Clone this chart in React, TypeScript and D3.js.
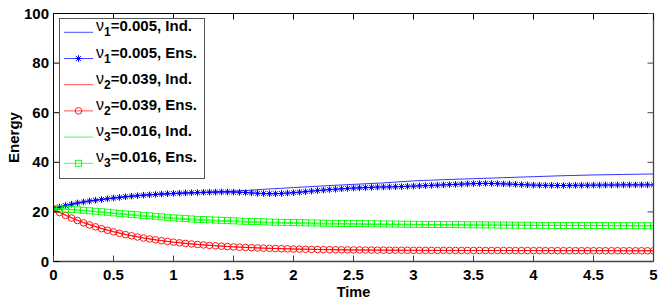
import React from 'react';
import * as d3 from 'd3';

// sample grids
const IND_TIMES = [0, 0.25, 0.5, 0.75, 1, 1.25, 1.5, 1.75, 2, 2.25, 2.5, 2.75, 3, 3.25, 3.5, 3.75, 4, 4.25, 4.5, 4.75, 5];
const ENS_TIMES = d3.range(101).map((i) => i * 0.05);

// individual runs (solid lines)
const BLUE_IND = [21.3, 24.0, 25.6, 26.7, 27.4, 27.8, 28.3, 29.1, 29.8, 30.5, 31.1, 31.7, 32.5, 33.0, 33.4, 33.8, 34.2, 34.6, 34.9, 35.1, 35.3];
const RED_IND = [21.0, 15.8, 12.1, 9.5, 7.8, 6.7, 5.9, 5.4, 5.05, 4.8, 4.66, 4.57, 4.51, 4.48, 4.45, 4.43, 4.4, 4.38, 4.36, 4.35, 4.33];
const GREEN_IND = [21.3, 20.5, 19.3, 18.2, 17.2, 16.5, 16.0, 15.6, 15.3, 15.1, 15.0, 14.9, 14.8, 14.7, 14.65, 14.6, 14.55, 14.5, 14.45, 14.4, 14.4];

// ensemble runs (lines with markers)
const BLUE_ENS = [
  21.3, 22.0, 22.6, 23.1, 23.6, 24.0, 24.4, 24.7, 25.0, 25.3,
  25.6, 25.85, 26.1, 26.35, 26.55, 26.75, 26.9, 27.05, 27.2, 27.35,
  27.45, 27.55, 27.65, 27.75, 27.8, 27.9, 27.95, 28.0, 28.05, 28.05,
  28.0, 27.9, 27.8, 27.65, 27.5, 27.4, 27.35, 27.35, 27.45, 27.6,
  27.75, 27.95, 28.15, 28.4, 28.6, 28.8, 29.0, 29.15, 29.3, 29.45,
  29.6, 29.7, 29.8, 29.9, 30.0, 30.05, 30.1, 30.15, 30.2, 30.3,
  30.4, 30.5, 30.6, 30.7, 30.8, 30.9, 31.0, 31.1, 31.2, 31.3,
  31.4, 31.45, 31.5, 31.45, 31.4, 31.3, 31.2, 31.1, 31.0, 30.9,
  30.8, 30.75, 30.7, 30.7, 30.65, 30.65, 30.7, 30.7, 30.75, 30.75,
  30.8, 30.8, 30.85, 30.85, 30.85, 30.9, 30.9, 30.9, 30.9, 30.9,
  30.9,
];
const RED_ENS = [
  21.0, 19.75, 18.59, 17.51, 16.52, 15.6, 14.75, 13.97, 13.24, 12.57,
  11.95, 11.37, 10.84, 10.35, 9.89, 9.47, 9.08, 8.73, 8.39, 8.09,
  7.8, 7.54, 7.29, 7.07, 6.86, 6.67, 6.49, 6.33, 6.17, 6.03,
  5.9, 5.78, 5.67, 5.57, 5.47, 5.38, 5.3, 5.23, 5.16, 5.09,
  5.03, 4.98, 4.93, 4.88, 4.84, 4.8, 4.77, 4.74, 4.71, 4.68,
  4.66, 4.64, 4.62, 4.6, 4.58, 4.57, 4.55, 4.54, 4.53, 4.52,
  4.51, 4.5, 4.49, 4.49, 4.48, 4.48, 4.47, 4.47, 4.46, 4.46,
  4.45, 4.45, 4.44, 4.44, 4.43, 4.43, 4.42, 4.42, 4.41, 4.41,
  4.4, 4.4, 4.4, 4.39, 4.39, 4.38, 4.38, 4.38, 4.37, 4.37,
  4.36, 4.36, 4.36, 4.35, 4.35, 4.35, 4.34, 4.34, 4.34, 4.33,
  4.33,
];
const GREEN_ENS = [
  21.3, 21.25, 21.15, 21.0, 20.85, 20.65, 20.45, 20.25, 20.05, 19.85,
  19.6, 19.4, 19.2, 19.0, 18.8, 18.6, 18.4, 18.2, 18.0, 17.8,
  17.6, 17.45, 17.3, 17.15, 17.0, 16.9, 16.8, 16.7, 16.6, 16.5,
  16.4, 16.3, 16.2, 16.15, 16.1, 16.0, 15.9, 15.85, 15.8, 15.75,
  15.7, 15.65, 15.6, 15.55, 15.5, 15.45, 15.4, 15.38, 15.35, 15.32,
  15.3, 15.27, 15.24, 15.21, 15.18, 15.15, 15.12, 15.09, 15.06, 15.03,
  15.0, 14.98, 14.96, 14.94, 14.92, 14.9, 14.88, 14.86, 14.84, 14.82,
  14.8, 14.78, 14.76, 14.74, 14.72, 14.7, 14.68, 14.66, 14.64, 14.62,
  14.6, 14.59, 14.58, 14.57, 14.56, 14.55, 14.54, 14.53, 14.52, 14.51,
  14.5, 14.49, 14.48, 14.47, 14.46, 14.45, 14.44, 14.43, 14.42, 14.41,
  14.4,
];

const NU_INDEX = ['1', '1', '2', '2', '3', '3'];
const NU_VALUES = ['0.005', '0.005', '0.039', '0.039', '0.016', '0.016'];
const RUN_KIND = ['Ind.', 'Ens.', 'Ind.', 'Ens.', 'Ind.', 'Ens.'];
const X_TICKS = [0, 0.5, 1, 1.5, 2, 2.5, 3, 3.5, 4, 4.5, 5];
const Y_TICKS = [0, 20, 40, 60, 80, 100];

type Marker = 'none' | 'star' | 'circle' | 'square';

const SERIES: { times: number[]; values: number[]; color: string; marker: Marker }[] = [
  { times: IND_TIMES, values: BLUE_IND, color: '#0000ff', marker: 'none' },
  { times: ENS_TIMES, values: BLUE_ENS, color: '#0000ff', marker: 'star' },
  { times: IND_TIMES, values: RED_IND, color: '#ff0000', marker: 'none' },
  { times: ENS_TIMES, values: RED_ENS, color: '#ff0000', marker: 'circle' },
  { times: IND_TIMES, values: GREEN_IND, color: '#00ff00', marker: 'none' },
  { times: ENS_TIMES, values: GREEN_ENS, color: '#00ff00', marker: 'square' },
];

const WIDTH = 664;
const HEIGHT = 300;
const FONT = '"Liberation Sans", Arial, Helvetica, sans-serif';

const starPath = (s: number) => {
  const d = s * 0.72;
  return `M${-s},0H${s}M0,${-s}V${s}M${-d},${-d}L${d},${d}M${-d},${d}L${d},${-d}`;
};

const MarkerShape: React.FC<{ kind: Marker; x: number; y: number; color: string }> = ({ kind, x, y, color }) => {
  if (kind === 'star') {
    return <path d={starPath(3.3)} transform={`translate(${x},${y})`} stroke={color} strokeWidth={1} fill="none" />;
  }
  if (kind === 'circle') {
    return <circle cx={x} cy={y} r={3.3} stroke={color} strokeWidth={0.9} fill="none" />;
  }
  if (kind === 'square') {
    return <rect x={x - 3} y={y - 3} width={6} height={6} stroke={color} strokeWidth={0.9} fill="none" />;
  }
  return null;
};

export default function App() {
  const x = d3.scaleLinear().domain([0, 5]).range([53.5, 653.5]);
  const y = d3.scaleLinear().domain([0, 100]).range([261.5, 13.5]);
  const [x0, x1] = x.range();
  const [y0, y1] = y.range();
  const tick = 6;

  const line = d3
    .line<[number, number]>()
    .x((d) => x(d[0]))
    .y((d) => y(d[1]))
    .curve(d3.curveMonotoneX);

  const legendTop = 32.3;
  const legendStep = 26.2;

  return (
    <div style={{ position: 'absolute', left: 0, top: 0 }}>
      <svg width={WIDTH} height={HEIGHT} style={{ display: 'block', background: '#fff' }} fontFamily={FONT}>
        <rect width={WIDTH} height={HEIGHT} fill="#fff" />

        {/* data */}
        <defs>
          <clipPath id="plot-clip">
            <rect x={x0} y={y1} width={x1 - x0} height={y0 - y1} />
          </clipPath>
        </defs>
        <g clipPath="url(#plot-clip)">
          {SERIES.map((s, i) => {
            const pts = s.times.map((t, j) => [t, s.values[j]] as [number, number]);
            return (
              <g key={i}>
                <path d={line(pts) || ''} fill="none" stroke={s.color} strokeWidth={1} strokeOpacity={0.8} />
                {s.marker !== 'none' &&
                  pts.map((p, j) => <MarkerShape key={j} kind={s.marker} x={x(p[0])} y={y(p[1])} color={s.color} />)}
              </g>
            );
          })}
        </g>

        {/* axes box */}
        <line x1={x0} x2={x1} y1={y1} y2={y1} stroke="#000" strokeWidth={1} />
        <line x1={x0} x2={x0} y1={y1} y2={y0} stroke="#000" strokeWidth={1} />
        <line x1={x0} x2={x1} y1={y0} y2={y0} stroke="#444" strokeWidth={1.3} />
        <line x1={x1} x2={x1} y1={y1} y2={y0} stroke="#444" strokeWidth={1.3} />

        {X_TICKS.map((t) => (
          <g key={`x${t}`}>
            <line x1={x(t)} x2={x(t)} y1={y0} y2={y0 - tick} stroke="#444" />
            <line x1={x(t)} x2={x(t)} y1={y1} y2={y1 + tick} stroke="#000" />
            <text x={x(t)} y={280} textAnchor="middle" fontSize={15} fontWeight="bold" fill="#000">
              {d3.format('~g')(t)}
            </text>
          </g>
        ))}
        {Y_TICKS.map((t) => (
          <g key={`y${t}`}>
            <line x1={x0} x2={x0 + tick} y1={y(t)} y2={y(t)} stroke="#000" />
            <line x1={x1} x2={x1 - tick} y1={y(t)} y2={y(t)} stroke="#444" />
            <text x={49} y={y(t) + 5} textAnchor="end" fontSize={15} fontWeight="bold" fill="#000">
              {t}
            </text>
          </g>
        ))}

        <text x={(x0 + x1) / 2} y={297} textAnchor="middle" fontSize={14.5} fontWeight="bold" fill="#000">
          Time
        </text>
        <text
          transform={`translate(19,${(y0 + y1) / 2}) rotate(-90)`}
          textAnchor="middle"
          fontSize={15}
          fontWeight="bold"
          fill="#000"
        >
          Energy
        </text>

        {/* legend */}
        <rect x={59.5} y={18.5} width={145} height={160} fill="#fff" stroke="#555" strokeWidth={1} />
        {SERIES.map((s, i) => {
          const ly = legendTop + i * legendStep;
          return (
            <g key={`lg${i}`}>
              <line x1={64} x2={93} y1={ly} y2={ly} stroke={s.color} strokeWidth={1} strokeOpacity={0.7} />
              <MarkerShape kind={s.marker} x={78.5} y={ly} color={s.color} />
              <text x={96} y={ly - 1} fontSize={15} fill="#000">
                <tspan fontWeight="normal" fontSize={16}>ν</tspan>
                <tspan fontWeight="bold" fontSize={12} dy={5}>{NU_INDEX[i]}</tspan>
                <tspan fontWeight="bold" dy={-5}>{`=${NU_VALUES[i]}, ${RUN_KIND[i]}`}</tspan>
              </text>
            </g>
          );
        })}
      </svg>
    </div>
  );
}
